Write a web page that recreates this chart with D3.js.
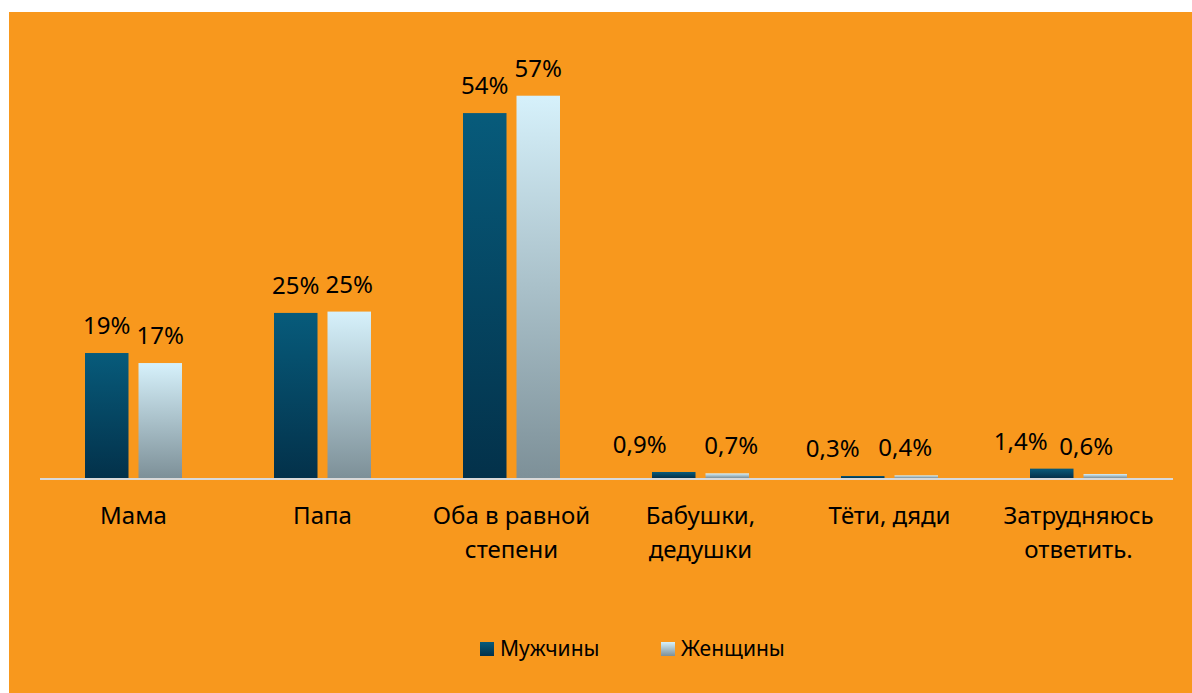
<!DOCTYPE html>
<html>
<head>
<meta charset="utf-8">
<script src="https://cdn.jsdelivr.net/npm/d3@7"></script>
<style>
  html, body { margin: 0; padding: 0; background: #fff; }
  svg { display: block; }
  text { font-family: "Noto Sans", "Open Sans", sans-serif; fill: #000; }
</style>
</head>
<body>
<svg id="chart" width="1192" height="693"></svg>
<script>
// data
const categories = [
  ["Мама"],
  ["Папа"],
  ["Оба в равной", "степени"],
  ["Бабушки,", "дедушки"],
  ["Тёти, дяди"],
  ["Затрудняюсь", "ответить."]
];
const seriesNames = ["Мужчины", "Женщины"];
const menValues = [18.7, 24.7, 54.6, 0.9, 0.3, 1.4];
const womenValues = [17.2, 24.9, 57.2, 0.7, 0.4, 0.6];
const menLabels = ["19%", "25%", "54%", "0,9%", "0,3%", "1,4%"];
const womenLabels = ["17%", "25%", "57%", "0,7%", "0,4%", "0,6%"];

// hand-placed label nudges (px) from the original
const menNudge = [0, 0, 0, -34, -30, -31];
const womenNudge = [0, 0, 0, 4, -11, -19];

const svg = d3.select("#chart");
const W = +svg.attr("width");
const H = +svg.attr("height");

// orange panel
svg.append("rect")
    .attr("x", 9).attr("y", 12)
    .attr("width", W - 9).attr("height", H - 12)
    .attr("fill", "#f8981d");

const defs = svg.append("defs");
function grad(id, top, bottom) {
  const g = defs.append("linearGradient").attr("id", id)
      .attr("x1", 0).attr("y1", 0).attr("x2", 0).attr("y2", 1);
  g.append("stop").attr("offset", "0%").attr("stop-color", top);
  g.append("stop").attr("offset", "100%").attr("stop-color", bottom);
}
grad("gMen", "#075b7b", "#03314a");
grad("gWomen", "#d6f1fb", "#7d9098");

const plotLeft = 39, plotRight = 1173, baseY = 478;

const x = d3.scaleBand()
    .domain(d3.range(categories.length))
    .range([plotLeft, plotRight])
    .paddingInner(0).paddingOuter(0);

const y = d3.scaleLinear().domain([0, 60]).range([baseY, baseY - 401]);

const barW = 43.5, barGap = 10;
const groupW = barW * 2 + barGap;
const xs = d3.scaleOrdinal().domain([0, 1])
    .range([(x.bandwidth() - groupW) / 2, (x.bandwidth() - groupW) / 2 + barW + barGap]);

const series = [
  { values: menValues, labels: menLabels, nudge: menNudge, fill: "url(#gMen)" },
  { values: womenValues, labels: womenLabels, nudge: womenNudge, fill: "url(#gWomen)" }
];

series.forEach((s, si) => {
  const g = svg.append("g").attr("class", "series-" + si);
  g.selectAll("rect")
      .data(s.values)
      .join("rect")
      .attr("x", (d, i) => x(i) + xs(si))
      .attr("y", d => y(d))
      .attr("width", barW)
      .attr("height", d => baseY - y(d))
      .attr("fill", s.fill);

  g.selectAll("text")
      .data(s.values)
      .join("text")
      .attr("x", (d, i) => x(i) + xs(si) + barW / 2 + s.nudge[i])
      .attr("y", d => y(d) - 19)
      .attr("text-anchor", "middle")
      .attr("font-size", 24)
      .text((d, i) => s.labels[i]);
});

// axis line
svg.append("line")
    .attr("x1", plotLeft + 1).attr("x2", plotRight)
    .attr("y1", baseY + 1).attr("y2", baseY + 1)
    .attr("stroke", "#d9d9d9").attr("stroke-width", 2);

// category labels
const catG = svg.append("g");
categories.forEach((lines, i) => {
  const t = catG.append("text")
      .attr("x", x(i) + x.bandwidth() / 2)
      .attr("y", 524)
      .attr("text-anchor", "middle")
      .attr("font-size", 24);
  lines.forEach((ln, k) => {
    t.append("tspan")
        .attr("x", x(i) + x.bandwidth() / 2)
        .attr("dy", k === 0 ? 0 : 34)
        .text(ln);
  });
});

// legend
const legendX = [480, 661];
const legendFill = ["url(#gMen)", "url(#gWomen)"];
seriesNames.forEach((name, i) => {
  const g = svg.append("g").attr("transform", `translate(${legendX[i]},642)`);
  g.append("rect").attr("width", 14).attr("height", 14).attr("fill", legendFill[i]);
  g.append("text").attr("x", 20).attr("y", 14).attr("font-size", 21).text(name);
});
</script>
</body>
</html>
